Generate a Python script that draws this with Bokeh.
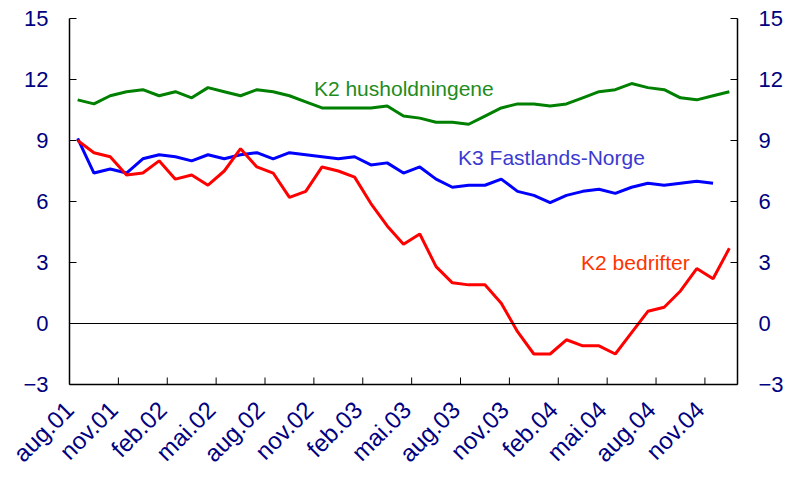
from math import pi
from bokeh.plotting import figure
from bokeh.models import LinearAxis, FixedTicker, Span, Label
from bokeh.embed import file_html
from bokeh.resources import INLINE

# ---- data (monthly, aug.01 .. des.04) ----
months = ["aug.01", "sep.01", "okt.01", "nov.01", "des.01",
          "jan.02", "feb.02", "mar.02", "apr.02", "mai.02", "jun.02", "jul.02",
          "aug.02", "sep.02", "okt.02", "nov.02", "des.02",
          "jan.03", "feb.03", "mar.03", "apr.03", "mai.03", "jun.03", "jul.03",
          "aug.03", "sep.03", "okt.03", "nov.03", "des.03",
          "jan.04", "feb.04", "mar.04", "apr.04", "mai.04", "jun.04", "jul.04",
          "aug.04", "sep.04", "okt.04", "nov.04", "des.04"]

k2_husholdninger = [11.0, 10.8, 11.2, 11.4, 11.5, 11.2, 11.4, 11.1, 11.6, 11.4,
                    11.2, 11.5, 11.4, 11.2, 10.9, 10.6, 10.6, 10.6, 10.6, 10.7,
                    10.2, 10.1, 9.9, 9.9, 9.8, 10.2, 10.6, 10.8, 10.8, 10.7,
                    10.8, 11.1, 11.4, 11.5, 11.8, 11.6, 11.5, 11.1, 11.0, 11.2,
                    11.4]

k3_fastlandsnorge = [9.1, 7.4, 7.6, 7.4, 8.1, 8.3, 8.2, 8.0, 8.3, 8.1,
                     8.3, 8.4, 8.1, 8.4, 8.3, 8.2, 8.1, 8.2, 7.8, 7.9,
                     7.4, 7.7, 7.1, 6.7, 6.8, 6.8, 7.1, 6.5, 6.3, 5.95,
                     6.3, 6.5, 6.6, 6.4, 6.7, 6.9, 6.8, 6.9, 7.0, 6.9]

k2_bedrifter = [9.0, 8.4, 8.2, 7.3, 7.4, 8.0, 7.1, 7.3, 6.8, 7.5,
                8.6, 7.7, 7.4, 6.2, 6.5, 7.7, 7.5, 7.2, 5.9, 4.8,
                3.9, 4.4, 2.8, 2.0, 1.9, 1.9, 1.0, -0.4, -1.5, -1.5,
                -0.8, -1.1, -1.1, -1.5, -0.45, 0.6, 0.8, 1.6, 2.7, 2.2,
                3.7]

y_ticks = [-3, 0, 3, 6, 9, 12, 15]
x_tick_idx = list(range(0, 40, 3))
x_tick_labels = [months[i] for i in x_tick_idx]

# ---- figure ----
FONT = "Liberation Sans"
NAVY = "#000080"
Y0, Y1 = -3, 15
FRAME_H = 366.0

p = figure(width=787, height=479, x_range=(0, len(months)), y_range=(Y0, Y1),
           output_backend="svg", toolbar_location=None,
           min_border_left=69, min_border_right=50,
           min_border_top=18, min_border_bottom=95)
p.outline_line_color = None
p.xgrid.visible = False
p.ygrid.visible = False
p.background_fill_color = "white"
p.border_fill_color = "white"

def xs(n):
    return [i + 0.5 for i in range(n)]

p.line(xs(len(k2_husholdninger)), k2_husholdninger, line_color="#008000", line_width=3)
p.line(xs(len(k3_fastlandsnorge)), k3_fastlandsnorge, line_color="#0000FF", line_width=3)
p.line(xs(len(k2_bedrifter)), k2_bedrifter, line_color="#FF0000", line_width=3)

p.add_layout(Span(location=0, dimension="width", line_color="black", line_width=1))

# right axis
p.add_layout(LinearAxis(), "right")

for ax in p.yaxis:
    ax.ticker = FixedTicker(ticks=y_ticks)
    ax.major_tick_in = 7
    ax.major_tick_out = 0
    ax.minor_tick_line_color = None
    ax.axis_line_width = 1.5
    ax.axis_line_color = "black"
    ax.major_tick_line_color = "black"
    ax.major_label_text_color = NAVY
    ax.major_label_text_font = FONT
    ax.major_label_text_font_size = "22px"
p.yaxis[0].major_label_standoff = 21
p.yaxis[1].major_label_standoff = 21

# category-boundary tick marks (inward) on the bottom axis
tick_len = 7 * (Y1 - Y0) / FRAME_H
p.segment(x0=x_tick_idx, y0=[Y0] * len(x_tick_idx),
          x1=x_tick_idx, y1=[Y0 + tick_len] * len(x_tick_idx),
          line_color="black", line_width=1)

# rotated month labels, anchored slightly left of each boundary tick
label_pos = [max(0, i - 0.3) for i in x_tick_idx]
xa = p.xaxis[0]
xa.ticker = FixedTicker(ticks=label_pos)
xa.major_label_overrides = {pos: lab for pos, lab in zip(label_pos, x_tick_labels)}
xa.major_label_orientation = pi / 4
xa.major_tick_in = 0
xa.major_tick_out = 0
xa.major_tick_line_color = None
xa.minor_tick_line_color = None
xa.axis_line_width = 1.5
xa.axis_line_color = "black"
xa.major_label_text_color = NAVY
xa.major_label_text_font = FONT
xa.major_label_text_font_size = "24px"
xa.major_label_standoff = 21

# series labels
p.add_layout(Label(x=15.0, y=11.56, text="K2 husholdningene", text_color="#1E8C1E",
                   text_font=FONT, text_font_size="21px", text_baseline="middle"))
p.add_layout(Label(x=23.85, y=8.17, text="K3 Fastlands-Norge", text_color="#3A3AD0",
                   text_font=FONT, text_font_size="21px", text_baseline="middle"))
p.add_layout(Label(x=31.4, y=3.0, text="K2 bedrifter", text_color="#FF3300",
                   text_font=FONT, text_font_size="21px", text_baseline="middle"))

open("out.html", "w").write(file_html(p, INLINE))
